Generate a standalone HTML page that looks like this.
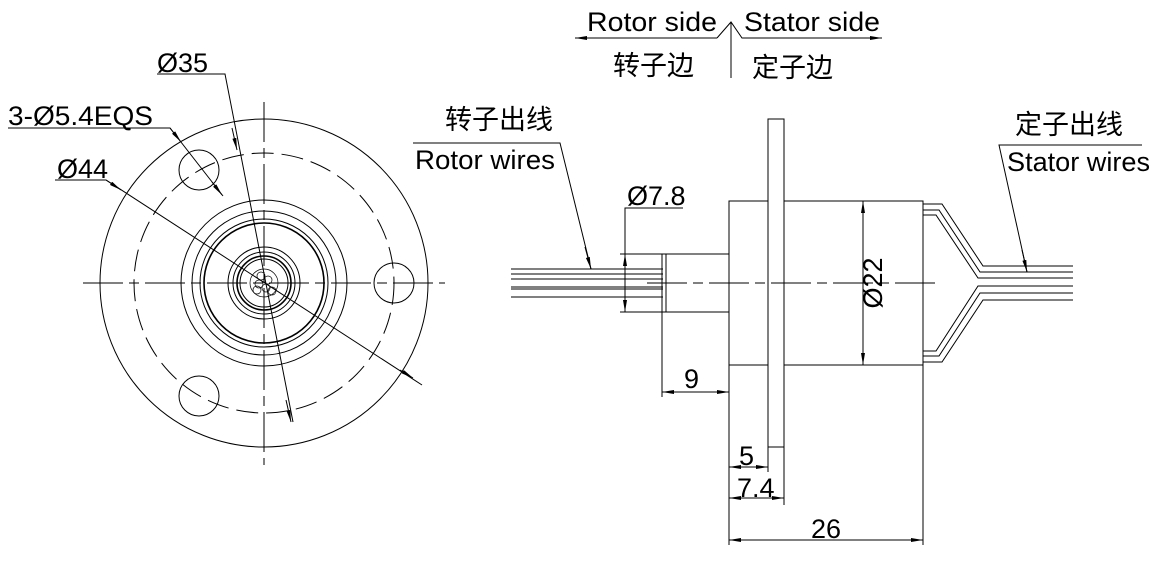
<!DOCTYPE html>
<html><head><meta charset="utf-8"><style>
html,body{margin:0;padding:0;background:#fff;}
svg{display:block;}
text{font-family:"Liberation Sans","Noto Sans CJK SC",sans-serif;fill:#000;}
</style></head><body>
<svg width="1163" height="581" viewBox="0 0 1163 581" xmlns="http://www.w3.org/2000/svg">
<defs>
<marker id="a" viewBox="0 0 12 4" refX="12" refY="2" markerWidth="12" markerHeight="4" markerUnits="userSpaceOnUse" orient="auto-start-reverse"><path d="M0,0 L12,2 L0,4 z" fill="#000"/></marker>
</defs>
<g fill="none" stroke="#000" stroke-width="1">
<circle cx="264" cy="283" r="164"/>
<circle cx="264" cy="283" r="130" stroke-dasharray="22,8"/>
<circle cx="199" cy="170" r="20"/>
<circle cx="199" cy="396" r="20"/>
<circle cx="394" cy="283" r="20"/>
<circle cx="264" cy="283" r="83"/>
<circle cx="264" cy="283" r="72"/>
<circle cx="264" cy="283" r="64"/>
<circle cx="264" cy="283" r="60" stroke-width="1.6"/>
<circle cx="264" cy="283" r="36"/>
<circle cx="264" cy="283" r="31"/>
<circle cx="264" cy="283" r="27" stroke-width="1.6"/>
<circle cx="264" cy="283" r="24"/>
<circle cx="264" cy="283" r="14" stroke-width="0.7"/>
<circle cx="261" cy="276" r="4" stroke-width="0.7"/><circle cx="268" cy="280" r="4" stroke-width="0.7"/>
<circle cx="259" cy="284" r="4" stroke-width="0.7"/><circle cx="266" cy="288" r="4" stroke-width="0.7"/>
<circle cx="272" cy="291" r="4" stroke-width="0.7"/><circle cx="257" cy="290" r="4" stroke-width="0.7"/>
<line x1="83" y1="283" x2="445" y2="283" stroke-dasharray="40,6,10,6"/>
<line x1="264" y1="102" x2="264" y2="465" stroke-dasharray="40,6,10,6"/>
<polyline points="157,74 225,74 293,422"/>
<line x1="232" y1="128" x2="237" y2="150" marker-end="url(#a)"/>
<line x1="286" y1="400" x2="291" y2="422" marker-end="url(#a)"/>
<polyline points="8,128 170,128 223,196"/>
<line x1="170" y1="128" x2="181" y2="142" marker-end="url(#a)"/>
<line x1="212" y1="182" x2="222" y2="195" marker-end="url(#a)"/>
<polyline points="55,180 106,180 422,385"/>
<line x1="106" y1="180" x2="121" y2="190" marker-end="url(#a)"/>
<line x1="400" y1="370" x2="413" y2="378" marker-end="url(#a)"/>
<rect x="729" y="201" width="194" height="164"/>
<rect x="768" y="119" width="16" height="328" fill="#fff"/>
<rect x="662" y="254" width="67" height="58"/>
<line x1="666" y1="254" x2="666" y2="312"/>
<line x1="511" y1="269" x2="663" y2="269"/><line x1="511" y1="274" x2="663" y2="274"/>
<line x1="511" y1="279" x2="663" y2="279"/><line x1="511" y1="287" x2="663" y2="287"/>
<line x1="511" y1="289" x2="663" y2="289"/><line x1="511" y1="297" x2="663" y2="297"/>
<line x1="647" y1="283" x2="935" y2="283" stroke-dasharray="40,6,10,6"/>
<polyline points="923,204 942,204 983,266 1073,266"/>
<polyline points="923,210 939,210 980,272 1073,272"/>
<polyline points="923,215 936,215 978,278 1073,278"/>
<polyline points="923,351 936,351 978,286 1073,286"/>
<polyline points="923,356 939,356 980,293 1073,293"/>
<polyline points="923,362 942,362 983,300 1073,300"/>
<line x1="620" y1="254" x2="662" y2="254"/><line x1="620" y1="312" x2="662" y2="312"/>
<polyline points="683,208 625,208 625,312"/>
<line x1="625" y1="283" x2="625" y2="254" marker-end="url(#a)"/>
<line x1="625" y1="283" x2="625" y2="312" marker-end="url(#a)"/>
<line x1="863" y1="283" x2="863" y2="201" marker-end="url(#a)"/>
<line x1="863" y1="283" x2="863" y2="365" marker-end="url(#a)"/>
<line x1="662" y1="312" x2="662" y2="397"/>
<line x1="729" y1="365" x2="729" y2="545"/>
<line x1="923" y1="365" x2="923" y2="545"/>
<line x1="768" y1="447" x2="768" y2="472"/>
<line x1="784" y1="447" x2="784" y2="505"/>
<line x1="695" y1="392" x2="662" y2="392" marker-end="url(#a)"/>
<line x1="695" y1="392" x2="729" y2="392" marker-end="url(#a)"/>
<line x1="748" y1="467" x2="729" y2="467" marker-end="url(#a)"/>
<line x1="748" y1="467" x2="768" y2="467" marker-end="url(#a)"/>
<line x1="756" y1="498" x2="729" y2="498" marker-end="url(#a)"/>
<line x1="756" y1="498" x2="784" y2="498" marker-end="url(#a)"/>
<line x1="826" y1="540" x2="729" y2="540" marker-end="url(#a)"/>
<line x1="826" y1="540" x2="923" y2="540" marker-end="url(#a)"/>
<polyline points="413,143 560,143 591,269"/>
<line x1="585" y1="247" x2="591" y2="269" marker-end="url(#a)"/>
<polyline points="1142,145 999,145 1027,272"/>
<line x1="1022" y1="250" x2="1027" y2="272" marker-end="url(#a)"/>
<polyline points="717,38 731,22 742,38 880,38"/>
<line x1="717" y1="38" x2="575" y2="38" marker-end="url(#a)"/>
<line x1="860" y1="38" x2="882" y2="38" marker-end="url(#a)"/>
<line x1="731" y1="22" x2="731" y2="78"/>
</g>
<g font-size="27">
<text x="157" y="72">Ø35</text>
<text x="8" y="125" textLength="145" lengthAdjust="spacingAndGlyphs">3-Ø5.4EQS</text>
<text x="57" y="178">Ø44</text>
<text x="587" y="31" textLength="130" lengthAdjust="spacingAndGlyphs">Rotor side</text>
<text x="744" y="31" textLength="136" lengthAdjust="spacingAndGlyphs">Stator side</text>
<text x="613" y="75">转子边</text>
<text x="752" y="77">定子边</text>
<text x="445" y="129">转子出线</text>
<text x="415" y="169" textLength="140" lengthAdjust="spacingAndGlyphs">Rotor wires</text>
<text x="1015" y="134">定子出线</text>
<text x="1007" y="171" textLength="143" lengthAdjust="spacingAndGlyphs">Stator wires</text>
<text x="627" y="205">Ø7.8</text>
<text x="684" y="388">9</text>
<text x="739" y="465">5</text>
<text x="737" y="497">7.4</text>
<text x="811" y="538">26</text>
<text transform="translate(882,283) rotate(-90)" text-anchor="middle">Ø22</text>
</g>
</svg>
</body></html>
